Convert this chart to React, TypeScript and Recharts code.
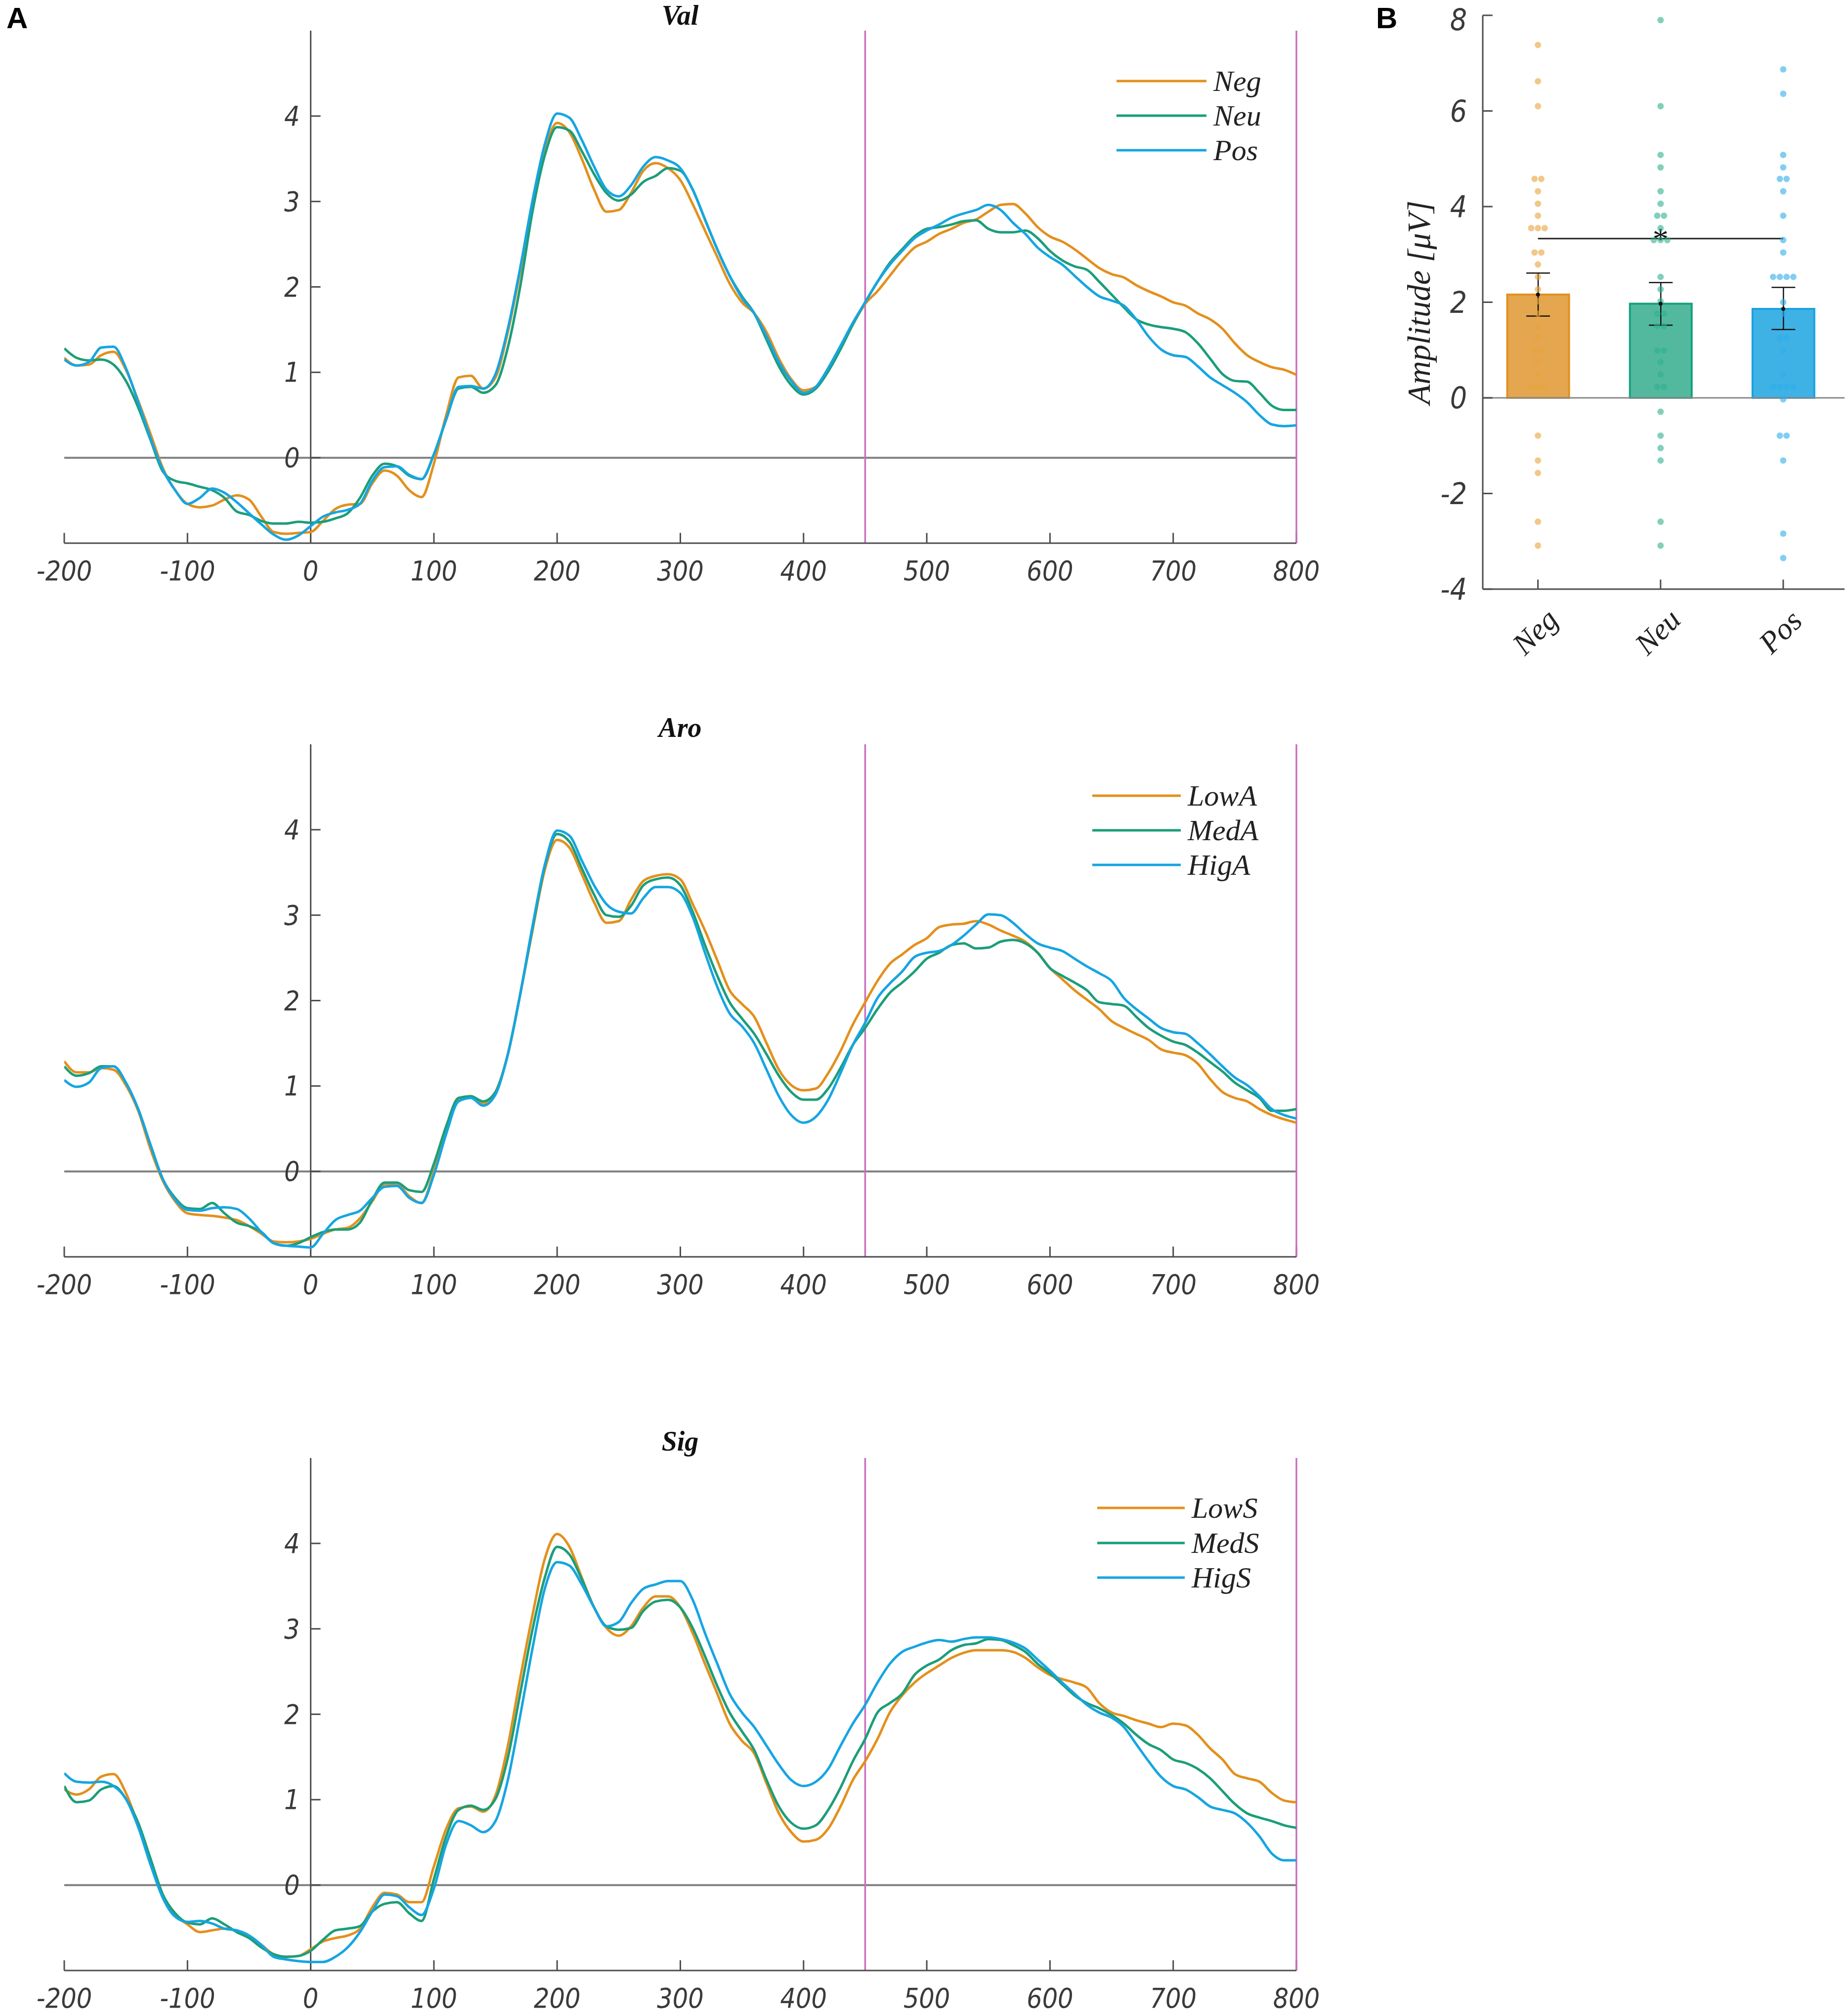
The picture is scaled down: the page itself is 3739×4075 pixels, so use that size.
import React from "react";
import {
  Bar,
  Cell,
  ComposedChart,
  ErrorBar,
  Line,
  LineChart,
  ReferenceLine,
  Scatter,
  XAxis,
  YAxis
} from "recharts";

// time axis in ms
const TIMES = [
  -200, -190, -180, -170, -160, -150, -140, -130, -120, -110,
  -100, -90, -80, -70, -60, -50, -40, -30, -20, -10,
  0, 10, 20, 30, 40, 50, 60, 70, 80, 90,
  100, 110, 120, 130, 140, 150, 160, 170, 180, 190,
  200, 210, 220, 230, 240, 250, 260, 270, 280, 290,
  300, 310, 320, 330, 340, 350, 360, 370, 380, 390,
  400, 410, 420, 430, 440, 450, 460, 470, 480, 490,
  500, 510, 520, 530, 540, 550, 560, 570, 580, 590,
  600, 610, 620, 630, 640, 650, 660, 670, 680, 690,
  700, 710, 720, 730, 740, 750, 760, 770, 780, 790,
  800
];
const X_TICKS = [-200, -100, 0, 100, 200, 300, 400, 500, 600, 700, 800];
const Y_TICKS = [0, 1, 2, 3, 4];

// Val
const VAL_NEG = [
  1.17, 1.08, 1.09, 1.2, 1.24, 1.03, 0.67, 0.28, -0.12, -0.38,
  -0.54, -0.58, -0.56, -0.49, -0.44, -0.49, -0.69, -0.87, -0.89, -0.88,
  -0.87, -0.74, -0.6, -0.55, -0.54, -0.3, -0.15, -0.21, -0.38, -0.46,
  -0.07, 0.5, 0.94, 0.96, 0.81, 0.94, 1.47, 2.17, 2.92, 3.59,
  3.92, 3.81, 3.5, 3.14, 2.88, 2.9, 3.1, 3.36, 3.45, 3.39,
  3.25, 2.97, 2.66, 2.35, 2.04, 1.82, 1.69, 1.47, 1.16, 0.92,
  0.79, 0.83, 1.03, 1.29, 1.56, 1.8, 1.95, 2.13, 2.31, 2.46,
  2.53, 2.62, 2.68, 2.75, 2.79, 2.88, 2.96, 2.97, 2.86, 2.7,
  2.59, 2.53, 2.44, 2.33, 2.22, 2.15, 2.11, 2.02, 1.95, 1.89,
  1.82, 1.78, 1.69, 1.62, 1.51, 1.34, 1.2, 1.12, 1.06, 1.03,
  0.97
];
const VAL_NEU = [
  1.28, 1.17, 1.14, 1.15, 1.09, 0.9, 0.59, 0.21, -0.16, -0.27,
  -0.3, -0.34, -0.38, -0.47, -0.63, -0.67, -0.74, -0.77, -0.77, -0.75,
  -0.76, -0.75, -0.71, -0.65, -0.47, -0.21, -0.07, -0.1, -0.21, -0.25,
  0.04, 0.45, 0.81, 0.83, 0.76, 0.85, 1.29, 2.0, 2.88, 3.54,
  3.87, 3.83, 3.59, 3.32, 3.1, 3.01, 3.08, 3.23, 3.3, 3.39,
  3.36, 3.14, 2.79, 2.44, 2.13, 1.89, 1.69, 1.38, 1.07, 0.85,
  0.74, 0.81, 1.01, 1.27, 1.56, 1.82, 2.06, 2.28, 2.44, 2.59,
  2.68, 2.7, 2.73, 2.77, 2.78, 2.68, 2.64, 2.64, 2.66, 2.57,
  2.42, 2.31, 2.24, 2.2, 2.06, 1.91, 1.76, 1.62, 1.56, 1.53,
  1.51, 1.47, 1.34, 1.16, 0.98, 0.9, 0.89, 0.76, 0.61, 0.56,
  0.56
];
const VAL_POS = [
  1.15, 1.08, 1.12, 1.29, 1.3, 1.05, 0.65, 0.23, -0.14, -0.38,
  -0.54, -0.47, -0.36, -0.41, -0.52, -0.65, -0.78, -0.9, -0.96, -0.91,
  -0.8, -0.69, -0.64, -0.61, -0.54, -0.27, -0.11, -0.1, -0.2, -0.25,
  0.04, 0.45, 0.83, 0.84, 0.81, 0.98, 1.51, 2.22, 3.01, 3.67,
  4.03, 3.98, 3.72, 3.41, 3.14, 3.06, 3.19, 3.41, 3.52, 3.48,
  3.39, 3.14, 2.79, 2.44, 2.13, 1.87, 1.69, 1.42, 1.12, 0.9,
  0.76, 0.83, 1.05, 1.31, 1.58, 1.82, 2.06, 2.26, 2.42, 2.57,
  2.66, 2.73, 2.81, 2.86, 2.9, 2.96, 2.9, 2.75, 2.62, 2.46,
  2.35, 2.26, 2.13, 2.0, 1.89, 1.84, 1.78, 1.62, 1.42, 1.27,
  1.2, 1.18, 1.07, 0.94, 0.85, 0.76, 0.65, 0.5, 0.39, 0.37,
  0.38
];

// Aro
const ARO_LOW = [
  1.29, 1.16, 1.16, 1.21, 1.19, 1.01, 0.71, 0.26, -0.11, -0.35,
  -0.49, -0.51, -0.52, -0.54, -0.57, -0.64, -0.73, -0.82, -0.83, -0.82,
  -0.79, -0.73, -0.68, -0.66, -0.55, -0.35, -0.15, -0.15, -0.29, -0.37,
  0.0, 0.49, 0.84, 0.88, 0.79, 0.93, 1.37, 2.07, 2.82, 3.53,
  3.88, 3.79, 3.48, 3.15, 2.91, 2.93, 3.18, 3.4, 3.46, 3.48,
  3.42, 3.13, 2.82, 2.47, 2.12, 1.96, 1.81, 1.5, 1.19, 1.01,
  0.95, 0.97, 1.15, 1.41, 1.72, 1.98, 2.23, 2.43, 2.54, 2.65,
  2.73, 2.86, 2.89, 2.9, 2.93, 2.89, 2.82, 2.76, 2.69, 2.56,
  2.38, 2.25, 2.12, 2.01, 1.9, 1.76, 1.68, 1.61, 1.54, 1.43,
  1.39, 1.36, 1.26, 1.08, 0.93, 0.86, 0.82, 0.73, 0.66, 0.61,
  0.57
];
const ARO_MED = [
  1.23, 1.12, 1.15, 1.23, 1.23, 1.04, 0.73, 0.31, -0.09, -0.31,
  -0.43, -0.44, -0.37, -0.49, -0.6, -0.64, -0.71, -0.84, -0.87, -0.84,
  -0.77, -0.71, -0.68, -0.68, -0.6, -0.33, -0.13, -0.13, -0.22, -0.24,
  0.09, 0.53, 0.86, 0.88, 0.82, 0.93, 1.37, 2.07, 2.84, 3.57,
  3.95, 3.86, 3.55, 3.24, 3.0, 2.98, 3.11, 3.35, 3.42, 3.44,
  3.35, 3.04, 2.65, 2.29, 1.98, 1.79, 1.61, 1.37, 1.12, 0.93,
  0.84, 0.84, 0.97, 1.21, 1.48, 1.68, 1.9, 2.09, 2.21, 2.34,
  2.49, 2.56, 2.65, 2.67, 2.61, 2.62, 2.69, 2.71, 2.67, 2.56,
  2.38, 2.29, 2.21, 2.12, 1.98, 1.96, 1.94, 1.81, 1.68, 1.59,
  1.52, 1.48, 1.39, 1.28, 1.17, 1.04, 0.95, 0.86, 0.71, 0.71,
  0.73
];
const ARO_HIG = [
  1.07, 0.99, 1.04, 1.21, 1.23, 1.04, 0.73, 0.31, -0.09, -0.33,
  -0.45, -0.46, -0.43, -0.42, -0.44, -0.55, -0.71, -0.84, -0.87, -0.88,
  -0.89, -0.73, -0.57, -0.51, -0.46, -0.31, -0.18, -0.17, -0.31, -0.37,
  -0.04, 0.44, 0.82, 0.86, 0.77, 0.9, 1.37, 2.07, 2.87, 3.59,
  3.99, 3.93, 3.64, 3.35, 3.13, 3.04, 3.02, 3.2, 3.33, 3.33,
  3.26, 2.98, 2.56, 2.16, 1.85, 1.7, 1.5, 1.19, 0.88, 0.66,
  0.57, 0.64, 0.84, 1.15, 1.48, 1.74, 2.03, 2.2, 2.34, 2.51,
  2.56, 2.58, 2.65, 2.76, 2.89, 3.01, 3.0, 2.91, 2.78, 2.67,
  2.62, 2.58, 2.49, 2.4, 2.32, 2.23, 2.03, 1.9, 1.79, 1.68,
  1.63, 1.61, 1.5, 1.37, 1.23, 1.1, 1.01, 0.88, 0.73, 0.66,
  0.62
];

// Sig
const SIG_LOW = [
  1.12, 1.06, 1.12, 1.27, 1.3, 1.08, 0.7, 0.26, -0.13, -0.35,
  -0.46, -0.55, -0.53, -0.51, -0.54, -0.61, -0.7, -0.81, -0.84, -0.83,
  -0.75, -0.66, -0.62, -0.59, -0.51, -0.26, -0.09, -0.11, -0.2, -0.2,
  0.22, 0.66, 0.9, 0.92, 0.86, 1.05, 1.63, 2.42, 3.16, 3.82,
  4.11, 3.96, 3.6, 3.25, 3.01, 2.92, 3.03, 3.25, 3.38, 3.38,
  3.25, 2.95, 2.59, 2.24, 1.89, 1.69, 1.54, 1.19, 0.84, 0.62,
  0.51, 0.53, 0.66, 0.92, 1.23, 1.45, 1.71, 2.02, 2.22, 2.37,
  2.48, 2.57, 2.66, 2.72, 2.75, 2.75, 2.75, 2.73, 2.66, 2.55,
  2.46, 2.41, 2.37, 2.31, 2.13, 2.02, 1.98, 1.93, 1.89, 1.85,
  1.89, 1.87, 1.76, 1.6, 1.47, 1.3, 1.25, 1.21, 1.08, 0.99,
  0.97
];
const SIG_MED = [
  1.16, 0.97, 0.99, 1.12, 1.16, 1.01, 0.73, 0.31, -0.11, -0.33,
  -0.44, -0.46, -0.39, -0.46, -0.55, -0.62, -0.73, -0.81, -0.84, -0.83,
  -0.77, -0.64, -0.53, -0.51, -0.48, -0.31, -0.22, -0.2, -0.33, -0.42,
  0.07, 0.57, 0.88, 0.93, 0.88, 1.01, 1.49, 2.24, 2.99, 3.6,
  3.96, 3.87, 3.58, 3.25, 3.03, 2.99, 3.01, 3.21, 3.32, 3.34,
  3.25, 3.01, 2.68, 2.33, 2.02, 1.8, 1.58, 1.23, 0.92, 0.73,
  0.66, 0.7, 0.88, 1.14, 1.45, 1.71, 2.02, 2.13, 2.24, 2.46,
  2.57, 2.64, 2.75, 2.81, 2.83, 2.88, 2.87, 2.81, 2.73, 2.59,
  2.48, 2.35, 2.22, 2.13, 2.07, 1.99, 1.89, 1.76, 1.65, 1.58,
  1.47, 1.43, 1.36, 1.25, 1.1, 0.95, 0.84, 0.79, 0.75, 0.7,
  0.67
];
const SIG_HIG = [
  1.31, 1.21, 1.2, 1.21, 1.16, 1.01, 0.68, 0.24, -0.15, -0.37,
  -0.43, -0.42, -0.45, -0.51, -0.53, -0.59, -0.7, -0.84, -0.87, -0.89,
  -0.9, -0.9, -0.84, -0.73, -0.55, -0.31, -0.11, -0.13, -0.26, -0.35,
  -0.04, 0.48, 0.75, 0.7, 0.62, 0.75, 1.23, 1.98, 2.77, 3.47,
  3.78, 3.74, 3.52, 3.25, 3.03, 3.08, 3.3, 3.47, 3.52, 3.56,
  3.56, 3.34, 2.95, 2.59, 2.24, 2.02, 1.85, 1.63, 1.41, 1.23,
  1.16, 1.21, 1.36, 1.63, 1.89, 2.11, 2.37, 2.59, 2.73, 2.79,
  2.84, 2.87, 2.85, 2.88, 2.9, 2.9, 2.88, 2.84, 2.77, 2.64,
  2.51, 2.37, 2.24, 2.11, 2.02, 1.96, 1.85, 1.65, 1.45, 1.27,
  1.16, 1.12, 1.03, 0.92, 0.88, 0.84, 0.73, 0.57, 0.37, 0.29,
  0.29
];

// panel B
const CATEGORIES = ["Neg", "Neu", "Pos"];
const BAR_MEANS = [2.16, 1.97, 1.86];
const CI_LOW = [1.71, 1.52, 1.43];
const CI_HIGH = [2.61, 2.41, 2.31];
const NEG_DOTS = [
  7.38, 6.62, 6.1, 4.58, 4.58, 4.32, 4.06, 3.81, 3.55, 3.55, 3.55, 3.04, 3.04, 2.79, 2.53, 2.27,
  2.02, 1.76, 1.5, 1.25, 0.99, 0.99, 0.75, 0.49, 0.23, 0.23, 0.23, -0.79, -1.31, -1.57, -2.59, -3.09
];
const NEU_DOTS = [
  7.9, 6.1, 5.08, 4.82, 4.32, 4.06, 3.81, 3.81, 3.55, 3.3, 3.3, 3.3, 2.53, 2.27, 2.02, 1.76,
  1.76, 1.5, 1.5, 0.99, 0.99, 0.75, 0.49, 0.23, 0.23, -0.29, -0.79, -1.05, -1.31, -2.59, -3.09
];
const POS_DOTS = [
  6.87, 6.36, 5.08, 4.82, 4.58, 4.58, 4.32, 3.81, 3.3, 3.04, 2.53, 2.53, 2.53, 2.53, 2.0, 1.76,
  1.25, 1.25, 0.99, 0.49, 0.23, 0.23, 0.23, 0.23, -0.03, -0.79, -0.79, -1.31, -2.84, -3.35
];
const SIG_BAR_Y = 3.33;
const B_Y_TICKS = [-4, -2, 0, 2, 4, 6, 8];

const ORANGE = "#e3901c";
const GREEN = "#1b9e79";
const BLUE = "#16a5e2";
const MAGENTA = "#c96fc1";
const AXIS = "#4d4d4d";
const TICK_TEXT = "#3a3a3a";
const SANS_NARROW = "'Liberation Sans Narrow', 'DejaVu Sans Condensed', sans-serif";
const SERIF = "'Liberation Serif', 'DejaVu Serif', serif";

const BAR_FILL = ["#e4a64f", "#52b99f", "#3fb2e5"];
const BAR_STROKE = [ORANGE, "#16a07c", "#1aa2e0"];
const DOT_FILL = ["#e8a33a", "#2fb08f", "#2eaee8"];

function TimeTick(props: any) {
  const { x, y, payload } = props;
  return (
    <text x={x} y={y + 56} textAnchor="middle" dominantBaseline="central" fill={TICK_TEXT}
      fontSize={55} fontStyle="italic" fontFamily={SANS_NARROW}>
      {payload.value}
    </text>
  );
}

function YTickLabel(props: any) {
  const { viewBox, tickText } = props;
  if (!viewBox) return null;
  return (
    <text x={viewBox.x - 22} y={viewBox.y} textAnchor="end" dominantBaseline="central" fill={TICK_TEXT}
      fontSize={55} fontStyle="italic" fontFamily={SANS_NARROW}>
      {tickText}
    </text>
  );
}

function AmpTick(props: any) {
  const { x, y, payload } = props;
  // keep the top label inside the page edge
  return (
    <text x={x} y={Math.max(y, 40)} textAnchor="end" dominantBaseline="central" fill={TICK_TEXT}
      fontSize={60} fontStyle="italic" fontFamily={SANS_NARROW}>
      {payload.value}
    </text>
  );
}

function Asterisk(props: any) {
  const { viewBox } = props;
  if (!viewBox) return null;
  return (
    <text x={viewBox.x + viewBox.width / 2} y={viewBox.y + 22} textAnchor="middle" fill="#111"
      fontSize={64} fontFamily={SERIF}>
      *
    </text>
  );
}

function CatTick(props: any) {
  const { x, y, payload } = props;
  const cx = x - 6;
  const cy = y + 86;
  return (
    <text x={cx} y={cy} textAnchor="middle" dominantBaseline="central" fill="#222"
      fontSize={62} fontStyle="italic" fontFamily={SERIF} transform={`rotate(-45, ${cx}, ${cy})`}>
      {CATEGORIES[payload.value - 1]}
    </text>
  );
}

function ErpPanel({ top, series }: { top: number; series: { name: string; values: number[]; color: string }[] }) {
  const rows = TIMES.map((t, i) => ({ t, s0: series[0].values[i], s1: series[1].values[i], s2: series[2].values[i] }));
  return (
    <div style={{ position: "absolute", left: 0, top, width: 2700, height: 1200 }}>
      <LineChart width={2700} height={1200} data={rows} margin={{ top: 60, right: 77, bottom: 0, left: 130 }}>
        <XAxis dataKey="t" type="number" domain={[-200, 800]} ticks={X_TICKS} interval={0} allowDataOverflow
          tickSize={0} tickMargin={0} tickLine={false} tick={<TimeTick />} height={103}
          axisLine={{ stroke: AXIS, strokeWidth: 3 }} />
        <YAxis hide type="number" domain={[-1, 5]} allowDataOverflow />
        <ReferenceLine y={0} stroke="#808080" strokeWidth={4} />
        <ReferenceLine segment={[{ x: 0, y: -1 }, { x: 0, y: 5 }]} stroke={AXIS} strokeWidth={3} />
        {X_TICKS.map((t) => (
          <ReferenceLine key={`xt${t}`} segment={[{ x: t, y: -1 }, { x: t, y: -0.88 }]} stroke={AXIS} strokeWidth={3} />
        ))}
        {Y_TICKS.map((v) => (
          <ReferenceLine key={`yt${v}`} segment={[{ x: 0, y: v }, { x: 8, y: v }]} stroke={AXIS} strokeWidth={3}
            label={<YTickLabel tickText={String(v)} />} />
        ))}
        <ReferenceLine x={450} stroke={MAGENTA} strokeWidth={3.5} />
        <ReferenceLine x={800} stroke={MAGENTA} strokeWidth={3.5} />
        {series.map((s, i) => (
          <Line key={s.name} dataKey={`s${i}`} name={s.name} type="monotone" stroke={s.color} strokeWidth={5}
            dot={false} activeDot={false} isAnimationActive={false} />
        ))}
      </LineChart>
    </div>
  );
}

function swarm(values: number[], center: number) {
  const counts: Record<string, number> = {};
  values.forEach((v) => {
    counts[v] = (counts[v] || 0) + 1;
  });
  const seen: Record<string, number> = {};
  return values.map((v) => {
    const i = (seen[v] = (seen[v] ?? -1) + 1);
    return { x: center + (i - (counts[v] - 1) / 2) * 0.055, y: v };
  });
}

function BarPanel() {
  const rows = CATEGORIES.map((c, i) => ({
    x: i + 1,
    mean: BAR_MEANS[i],
    err: [BAR_MEANS[i] - CI_LOW[i], CI_HIGH[i] - BAR_MEANS[i]]
  }));
  const dotSets = [NEG_DOTS, NEU_DOTS, POS_DOTS].map((d, i) => swarm(d, i + 1));
  const meanPts = BAR_MEANS.map((m, i) => ({ x: i + 1, y: m }));
  return (
    <div style={{ position: "absolute", left: 2700, top: 0, width: 1039, height: 1342 }}>
      <ComposedChart width={1039} height={1342} data={rows} margin={{ top: 31, right: 7, bottom: 0, left: 200 }}>
        <XAxis dataKey="x" type="number" domain={[0.55, 3.5]} ticks={[1, 2, 3]} interval={0} allowDataOverflow
          tickSize={0} tickMargin={0} tickLine={false} tick={<CatTick />} height={150}
          axisLine={{ stroke: AXIS, strokeWidth: 3 }} />
        <XAxis xAxisId="bars" dataKey="x" type="number" domain={[0.55, 3.5]} allowDataOverflow hide />
        <YAxis type="number" domain={[-4, 8]} ticks={B_Y_TICKS} interval={0} allowDataOverflow width={100}
          tickSize={0} tickMargin={32} tickLine={false} axisLine={{ stroke: AXIS, strokeWidth: 3 }}
          tick={<AmpTick />} />
        <ReferenceLine y={0} stroke="#8a8a8a" strokeWidth={3} />
        {B_Y_TICKS.map((v) => (
          <ReferenceLine key={`byt${v}`} segment={[{ x: 0.55, y: v }, { x: 0.63, y: v }]} stroke={AXIS} strokeWidth={3} />
        ))}
        {[1, 2, 3].map((c) => (
          <ReferenceLine key={`bxt${c}`} segment={[{ x: c, y: -4 }, { x: c, y: -3.8 }]} stroke={AXIS} strokeWidth={3} />
        ))}
        <Bar xAxisId="bars" dataKey="mean" barSize={125} isAnimationActive={false}>
          {rows.map((r, i) => (
            <Cell key={r.x} fill={BAR_FILL[i]} stroke={BAR_STROKE[i]} strokeWidth={4} />
          ))}
          <ErrorBar dataKey="err" width={24} stroke="#111" strokeWidth={2.5} />
        </Bar>
        {dotSets.map((pts, i) => (
          <Scatter key={CATEGORIES[i]} data={pts} dataKey="y" isAnimationActive={false}
            shape={(p: any) => <circle cx={p.cx} cy={p.cy} r={6.5} fill={DOT_FILL[i]} fillOpacity={0.6} />} />
        ))}
        <Scatter data={meanPts} dataKey="y" isAnimationActive={false}
          shape={(p: any) => <circle cx={p.cx} cy={p.cy} r={4} fill="#111" />} />
        <ReferenceLine segment={[{ x: 1, y: SIG_BAR_Y }, { x: 3, y: SIG_BAR_Y }]} stroke="#222" strokeWidth={3}
          label={<Asterisk />} />
      </ComposedChart>
    </div>
  );
}

const LEGENDS = [
  { x1: 2259, x2: 2441, ys: [164, 234, 304] },
  { x1: 2210, x2: 2389, ys: [1610, 1680, 1750] },
  { x1: 2220, x2: 2397, ys: [3051, 3122, 3192] }
];
const TITLES = [
  { text: "Val", y: 31 },
  { text: "Aro", y: 1472 },
  { text: "Sig", y: 2916 }
];

export default function App() {
  const panels = [
    [
      { name: "Neg", values: VAL_NEG, color: ORANGE },
      { name: "Neu", values: VAL_NEU, color: GREEN },
      { name: "Pos", values: VAL_POS, color: BLUE }
    ],
    [
      { name: "LowA", values: ARO_LOW, color: ORANGE },
      { name: "MedA", values: ARO_MED, color: GREEN },
      { name: "HigA", values: ARO_HIG, color: BLUE }
    ],
    [
      { name: "LowS", values: SIG_LOW, color: ORANGE },
      { name: "MedS", values: SIG_MED, color: GREEN },
      { name: "HigS", values: SIG_HIG, color: BLUE }
    ]
  ];
  const tops = [2, 1446, 2890];
  return (
    <div style={{ position: "absolute", left: 0, top: 0, width: 3739, height: 4075, background: "#fff", overflow: "hidden" }}>
      {panels.map((s, i) => (
        <ErpPanel key={i} top={tops[i]} series={s} />
      ))}
      <BarPanel />
      <svg width={3739} height={4075} style={{ position: "absolute", left: 0, top: 0, pointerEvents: "none" }}>
        <text x={13} y={57} fontSize={60} fontWeight="bold" fontFamily="'Liberation Sans', Arial, sans-serif" fill="#000">A</text>
        <text x={2784} y={57} fontSize={60} fontWeight="bold" fontFamily="'Liberation Sans', Arial, sans-serif" fill="#000">B</text>
        <text x={2870} y={612} fontSize={66} fontStyle="italic" fontFamily={SERIF} fill="#222" textAnchor="middle"
          dominantBaseline="central" transform="rotate(-90, 2870, 612)">
          Amplitude [μV]
        </text>
        {TITLES.map((t) => (
          <text key={t.text} x={1376} y={t.y} fontSize={56} fontWeight="bold" fontStyle="italic" fontFamily={SERIF}
            fill="#111" textAnchor="middle" dominantBaseline="central">
            {t.text}
          </text>
        ))}
        {LEGENDS.map((lg, i) =>
          panels[i].map((s, j) => (
            <g key={`${i}-${j}`}>
              <line x1={lg.x1} x2={lg.x2} y1={lg.ys[j]} y2={lg.ys[j]} stroke={s.color} strokeWidth={5} />
              <text x={lg.x2 + 14} y={lg.ys[j]} fontSize={60} fontStyle="italic" fontFamily={SERIF} fill="#222"
                dominantBaseline="central">
                {s.name}
              </text>
            </g>
          ))
        )}
      </svg>
    </div>
  );
}
